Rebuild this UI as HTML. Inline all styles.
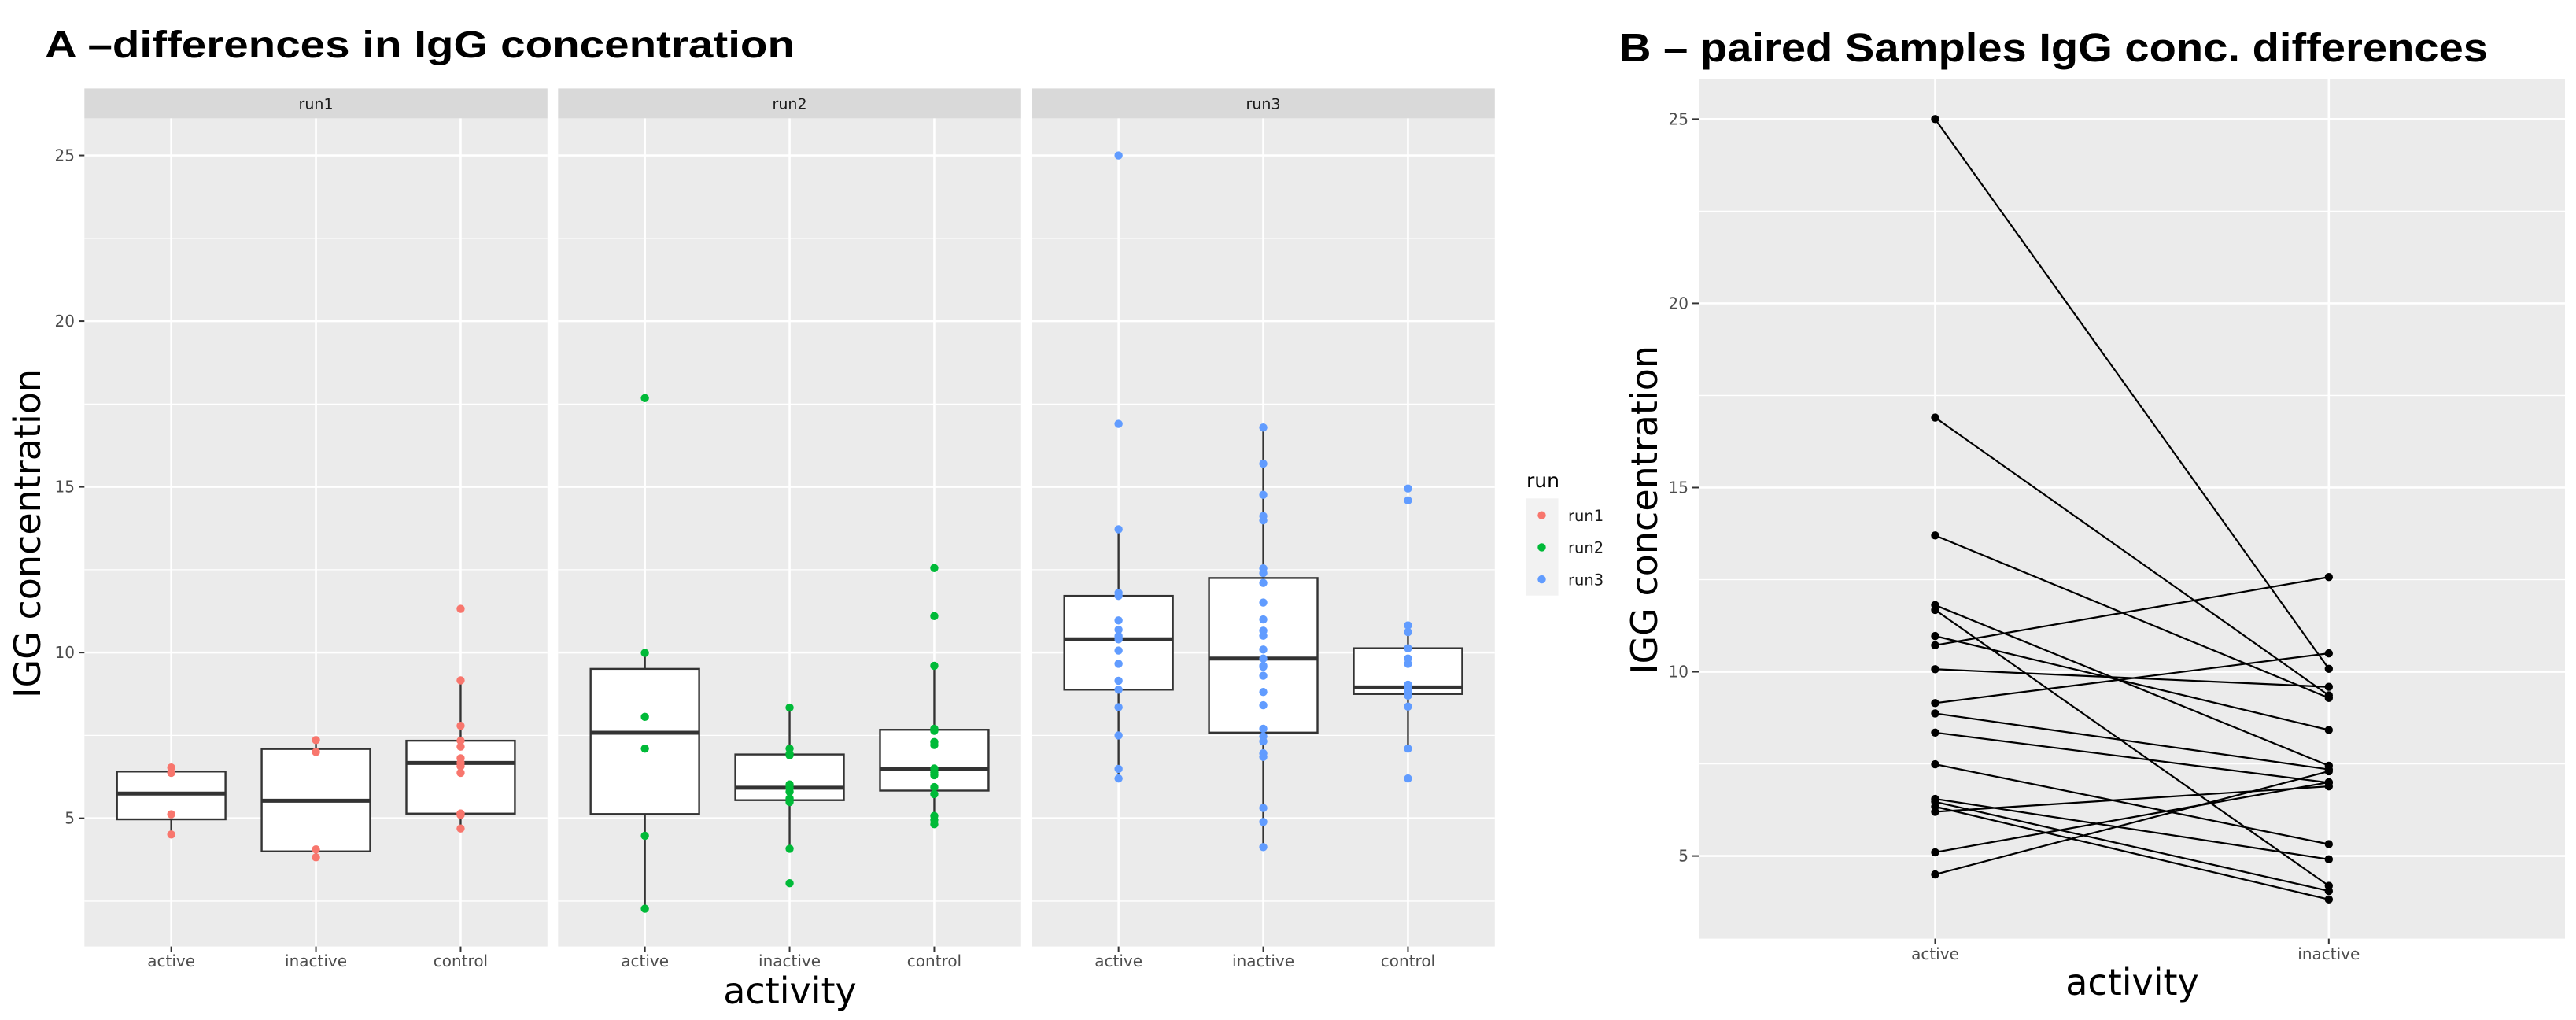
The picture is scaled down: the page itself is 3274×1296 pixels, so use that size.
<!DOCTYPE html>
<html><head><meta charset="utf-8"><style>
html,body{margin:0;padding:0;background:#fff;}
svg{display:block;}
text{font-family:"DejaVu Sans","Liberation Sans",sans-serif;}
</style></head>
<body>
<svg id="chart" width="3274" height="1296" viewBox="0 0 3274 1296" xmlns="http://www.w3.org/2000/svg">
<text x="57" y="73" style="font-family:'Liberation Sans',Arial,sans-serif;font-weight:bold" font-size="48" textLength="953" lengthAdjust="spacingAndGlyphs" fill="#000">A –differences in IgG concentration</text>
<text x="2058" y="78" style="font-family:'Liberation Sans',Arial,sans-serif;font-weight:bold" font-size="51" textLength="1104" lengthAdjust="spacingAndGlyphs" fill="#000">B – paired Samples IgG conc. differences</text>
<g id="gA"></g>
<g id="gB"></g>
</svg>
<script>
// ---- Panel A data ----
const runs = ["run1","run2","run3"];
const runColors = ["#F8766D","#00BA38","#619CFF"];
const activities = ["active","inactive","control"];
const run1Active = [4.51,5.12,6.37,6.53];
const run1Inactive = [3.82,4.06,7.0,7.36];
const run1Control = [4.69,5.1,5.14,5.14,6.37,6.57,6.67,6.81,7.16,7.34,7.79,9.16,11.32];
const run2Active = [2.27,4.47,7.1,8.06,9.99,17.68];
const run2Inactive = [3.04,4.08,5.49,5.6,5.8,5.92,6.02,6.9,6.95,7.1,8.34];
const run2Control = [4.82,4.95,5.07,5.73,5.94,6.3,6.38,6.5,7.21,7.3,7.64,7.7,9.6,11.1,12.55];
const run3Active = [6.2,6.49,7.5,8.35,8.88,9.15,9.66,10.06,10.4,10.5,10.69,10.97,11.71,11.8,13.72,16.9,25.0];
const run3Inactive = [4.13,4.89,5.31,6.85,6.96,7.32,7.47,7.7,8.41,8.81,9.3,9.57,9.6,9.82,10.09,10.51,10.66,11.0,11.51,12.1,12.4,12.54,13.99,14.12,14.76,15.7,16.79];
const run3Control = [6.2,7.1,8.37,8.7,8.75,8.81,8.85,8.9,8.95,9.03,9.66,9.82,10.13,10.62,10.82,14.59,14.95];
const yTicksA = [5,10,15,20,25];
const yMinorA = [2.5,7.5,12.5,17.5,22.5];
// ---- Panel B data ----
const pairCategories = ["active","inactive"];
const pairActive =   [25.0,16.9,13.7,11.81,11.68,10.97,10.72,10.07,9.15,8.87,8.35,7.49,6.55,6.47,6.34,6.2,5.1,4.5];
const pairInactive = [10.08,9.36,9.29,7.45,4.19,8.42,12.57,9.59,10.5,7.35,6.99,5.32,4.91,4.05,3.82,6.89,7.0,7.3];
const yTicksB = [5,10,15,20,25];
const yMinorB = [7.5,12.5,17.5,22.5];

const NS="http://www.w3.org/2000/svg";
function mk(parent,tag,attrs,txt){const e=document.createElementNS(NS,tag);for(const k in attrs)e.setAttribute(k,attrs[k]);if(txt!==undefined)e.textContent=txt;parent.appendChild(e);return e;}
function quant(arr,p){const s=[...arr].sort((a,b)=>a-b);const h=(s.length-1)*p;const lo=Math.floor(h),hi=Math.ceil(h);return s[lo]+(s[hi]-s[lo])*(h-lo);}

// ---- Panel A ----
const gA=document.getElementById('gA');
const data=[[run1Active,run1Inactive,run1Control],[run2Active,run2Inactive,run2Control],[run3Active,run3Inactive,run3Control]];
const pTop=150.4,pBot=1202.6,stripTop=112.4,pW=588.5,gap=13.5,px0=107.3;
const yA0=1.13,yA1=26.12;
const yA=v=>pBot-(v-yA0)/(yA1-yA0)*(pBot-pTop);
for(let r=0;r<3;r++){
  const x0=px0+r*(pW+gap);
  const step=pW/3.2;
  const xA=i=>x0+(i+0.6)*step;
  const g=mk(gA,'g',{});
  
  
  const bg=mk(g,'rect',{x:x0,y:pTop,width:pW,height:pBot-pTop,fill:'#ebebeb'});
  
  
  const st=mk(g,'rect',{x:x0,y:stripTop,width:pW,height:pTop-stripTop,fill:'#d9d9d9'});
  
  
  const stt=mk(g,'text',{x:x0+pW/2,y:(stripTop+pTop)/2+7,'text-anchor':'middle','font-size':19,fill:'#1a1a1a'},runs[r]);
  
  
  yMinorA.forEach(v=>{const l=mk(g,'line',{x1:x0,x2:x0+pW,y1:yA(v),y2:yA(v),stroke:'#fff','stroke-width':1.3});});
  yTicksA.forEach(v=>{const l=mk(g,'line',{x1:x0,x2:x0+pW,y1:yA(v),y2:yA(v),stroke:'#fff','stroke-width':2.6});});
  activities.forEach((a,i)=>{
    const l=mk(g,'line',{x1:xA(i),x2:xA(i),y1:pTop,y2:pBot,stroke:'#fff','stroke-width':2.6});
    
    
    const tk=mk(g,'line',{x1:xA(i),x2:xA(i),y1:pBot,y2:pBot+7,stroke:'#333','stroke-width':2});
    
    
    const t=mk(g,'text',{x:xA(i),y:1228,'text-anchor':'middle','font-size':20,fill:'#4d4d4d'},a);
    
    
  });
  activities.forEach((a,i)=>{
    const vals=data[r][i];
    const q1=quant(vals,0.25),med=quant(vals,0.5),q3=quant(vals,0.75),iqr=q3-q1;
    const inside=vals.filter(v=>v>=q1-1.5*iqr&&v<=q3+1.5*iqr);
    const wLo=Math.min(...inside),wHi=Math.max(...inside);
    const bw=step*0.75,cx=xA(i);
    const bg2=mk(g,'g',{});
    
    
    const w1=mk(bg2,'line',{x1:cx,x2:cx,y1:yA(q3),y2:yA(wHi),stroke:'#333','stroke-width':2.4});
    
    
    const w2=mk(bg2,'line',{x1:cx,x2:cx,y1:yA(q1),y2:yA(wLo),stroke:'#333','stroke-width':2.4});
    
    
    const bx=mk(bg2,'rect',{x:cx-bw/2,y:yA(q3),width:bw,height:yA(q1)-yA(q3),fill:'#fff',stroke:'#333','stroke-width':2.4});
    
    
    const md=mk(bg2,'line',{x1:cx-bw/2,x2:cx+bw/2,y1:yA(med),y2:yA(med),stroke:'#333','stroke-width':5});
    
    
    vals.forEach(v=>{const c=mk(bg2,'circle',{cx:cx,cy:yA(v),r:5.2,fill:runColors[r]});});
  });
}
yTicksA.forEach(v=>{
  const t=mk(gA,'text',{x:95,y:yA(v)+7,'text-anchor':'end','font-size':20,fill:'#4d4d4d'},String(v));
  
  
  const tk=mk(gA,'line',{x1:100,x2:107.3,y1:yA(v),y2:yA(v),stroke:'#333','stroke-width':2});
  
  
});
const ytA=mk(gA,'text',{x:0,y:0,transform:'translate(51,678) rotate(-90)','text-anchor':'middle','font-size':46,fill:'#000'},'IGG concentration');


const xtA=mk(gA,'text',{x:1004,y:1275,'text-anchor':'middle','font-size':46,fill:'#000'},'activity');


// legend
const lg=mk(gA,'g',{});


const lgt=mk(lg,'text',{x:1940,y:619,'font-size':25,fill:'#000'},'run');


const lkb=mk(lg,'rect',{x:1940,y:633.3,width:40.5,height:123.4,fill:'#f2f2f2'});


runs.forEach((rn,i)=>{
  const c=mk(lg,'circle',{cx:1959.5,cy:654.7+i*40.7,r:5.2,fill:runColors[i]});
  
  
  const t=mk(lg,'text',{x:1993,y:662+i*40.7,'font-size':19.5,fill:'#1a1a1a'},rn);
  
  
});

// ---- Panel B ----
const gB=document.getElementById('gB');
const bL=2159.3,bR=3260,bT=100.8,bB=1192.6;
const yB0=2.757,yB1=26.08;
const yB=v=>bB-(v-yB0)/(yB1-yB0)*(bB-bT);
const stepB=(bR-bL)/2.2;
const xB=i=>bL+(i+0.6)*stepB;
const bbg=mk(gB,'rect',{x:bL,y:bT,width:bR-bL,height:bB-bT,fill:'#ebebeb'});


yMinorB.forEach(v=>{const l=mk(gB,'line',{x1:bL,x2:bR,y1:yB(v),y2:yB(v),stroke:'#fff','stroke-width':1.3});});
yTicksB.forEach(v=>{
  const l=mk(gB,'line',{x1:bL,x2:bR,y1:yB(v),y2:yB(v),stroke:'#fff','stroke-width':2.6});
  
  
  const t=mk(gB,'text',{x:2146,y:yB(v)+7,'text-anchor':'end','font-size':20,fill:'#4d4d4d'},String(v));
  
  
  const tk=mk(gB,'line',{x1:2151,x2:bL,y1:yB(v),y2:yB(v),stroke:'#333','stroke-width':2});
  
  
});
pairCategories.forEach((c,i)=>{
  const l=mk(gB,'line',{x1:xB(i),x2:xB(i),y1:bT,y2:bB,stroke:'#fff','stroke-width':2.6});
  
  
  const tk=mk(gB,'line',{x1:xB(i),x2:xB(i),y1:bB,y2:bB+7,stroke:'#333','stroke-width':2});
  
  
  const t=mk(gB,'text',{x:xB(i),y:1219,'text-anchor':'middle','font-size':20,fill:'#4d4d4d'},c);
  
  
});
pairActive.forEach((a,k)=>{
  const b=pairInactive[k];
  const l=mk(gB,'line',{x1:xB(0),y1:yB(a),x2:xB(1),y2:yB(b),stroke:'#000','stroke-width':2.2});
  
  
});
pairActive.forEach((a,k)=>{
  const b=pairInactive[k];
  const c1=mk(gB,'circle',{cx:xB(0),cy:yB(a),r:5.2,fill:'#000'});
  
  
  const c2=mk(gB,'circle',{cx:xB(1),cy:yB(b),r:5.2,fill:'#000'});
  
  
});
const ytB=mk(gB,'text',{x:0,y:0,transform:'translate(2106,648) rotate(-90)','text-anchor':'middle','font-size':46,fill:'#000'},'IGG concentration');


const xtB=mk(gB,'text',{x:2710,y:1264,'text-anchor':'middle','font-size':46,fill:'#000'},'activity');


</script>
</body></html>
